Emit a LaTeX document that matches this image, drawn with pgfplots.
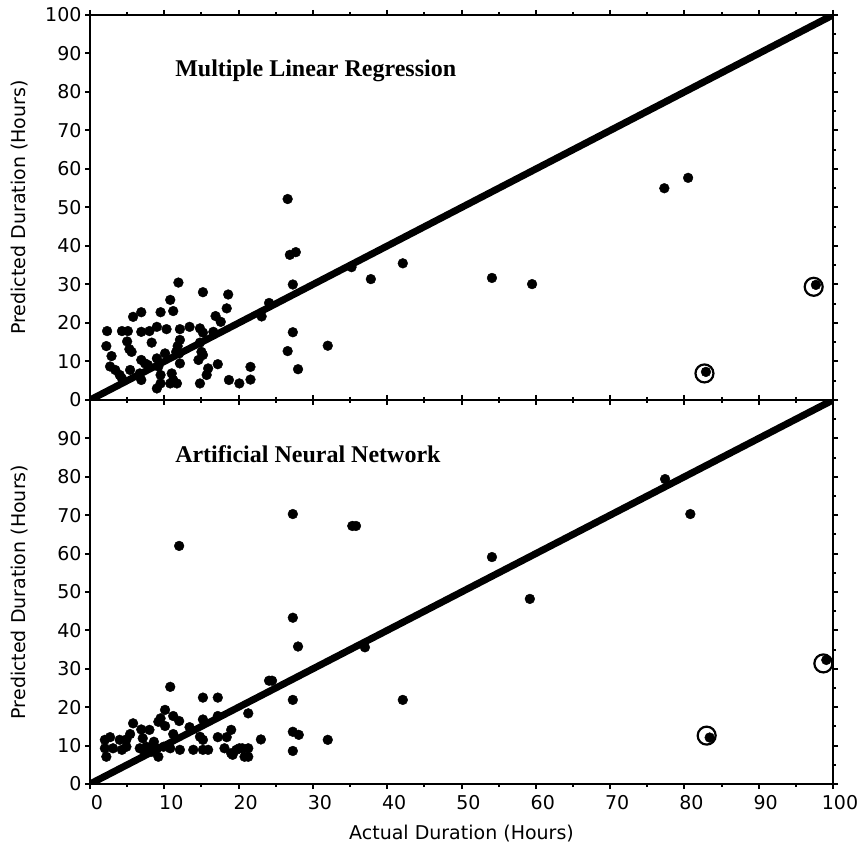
\documentclass[border=0pt]{standalone}
\usepackage{fontspec}
\setmainfont{DejaVu Sans}
\newfontfamily\titlefont{Liberation Serif}
\usepackage{pgfplots}
\usepackage{pgfplotstable}
\pgfplotsset{compat=1.18}

\pgfplotstableread{
x y
26.6 52.2
26.9 37.7
27.7 38.4
27.3 30.0
24.1 25.2
23.1 21.7
35.2 34.5
37.8 31.4
42.1 35.5
27.3 17.6
26.6 12.7
28.0 8.0
32.0 14.1
21.6 8.6
21.6 5.3
20.1 4.3
18.7 5.2
18.6 27.4
18.4 23.8
11.9 30.5
15.2 28.0
6.9 22.8
5.8 21.6
9.5 22.8
10.8 26.0
11.2 23.1
16.9 21.8
17.6 20.3
2.3 17.9
4.3 17.9
5.1 17.9
6.9 17.7
8.0 17.9
9.0 19.0
10.3 18.4
12.1 18.4
13.4 19.0
14.8 18.6
15.2 17.5
16.6 17.7
2.2 14.0
2.9 11.4
5.0 15.2
5.3 13.2
5.6 12.5
8.3 14.9
12.1 15.6
11.8 14.0
11.6 12.5
12.0 12.1
10.1 12.1
9.0 10.8
14.8 14.9
15.0 12.5
15.2 11.7
14.6 10.4
2.7 8.7
3.4 7.8
4.0 6.5
4.3 5.6
5.4 7.8
6.9 10.4
7.4 9.5
7.8 9.1
6.7 6.9
6.9 5.2
9.2 8.7
9.5 6.5
9.5 4.3
9.0 3.0
11.0 6.9
11.2 5.2
10.8 4.3
11.7 4.3
12.1 9.5
15.9 8.2
15.7 6.5
17.2 9.3
14.8 4.3
54.1 31.7
59.5 30.1
77.3 55.0
80.5 57.7
82.9 7.3
97.7 29.9
}\topdata

\pgfplotstableread{
x y
82.7 6.9
97.4 29.4
}\topcirc

\pgfplotstableread{
x y
77.4 79.4
80.8 70.3
54.1 59.1
59.2 48.2
42.1 21.9
12.0 62.0
27.3 70.3
35.3 67.2
35.8 67.2
27.3 43.3
28.0 35.8
37.0 35.6
24.1 26.9
24.5 26.9
27.3 21.9
21.3 18.4
19.0 14.1
23.0 11.6
27.3 13.6
28.1 12.8
32.0 11.5
27.3 8.6
20.1 9.3
21.3 9.3
21.3 7.1
19.0 8.0
10.8 25.3
15.2 22.5
17.2 22.5
10.1 19.3
11.2 17.7
12.0 16.4
9.5 17.1
9.2 16.2
15.2 16.8
17.2 17.7
5.8 15.8
10.1 15.1
13.4 14.8
6.9 14.2
8.0 14.1
5.4 13.0
11.2 13.0
2.7 12.2
2.0 11.5
4.0 11.5
4.9 11.6
7.1 11.9
8.6 11.0
14.8 12.3
15.2 11.5
17.2 12.2
18.4 12.2
2.0 9.3
3.1 9.3
4.3 8.9
4.9 9.7
6.7 9.3
7.6 9.7
8.3 9.7
9.0 9.3
9.9 9.7
10.8 9.3
12.1 8.9
13.9 8.9
15.2 8.9
15.9 8.9
18.1 9.3
19.7 8.9
20.5 9.3
2.2 7.1
7.4 8.0
9.2 7.1
8.3 8.4
19.2 7.6
20.8 7.1
83.4 12.1
99.1 32.3
}\botdata

\pgfplotstableread{
x y
83.0 12.6
98.7 31.4
}\botcirc

\pgfplotsset{
  paneldims/.style={
    width=743pt, scale only axis,
    xmin=0, xmax=100, ymin=0, ymax=100,
    axis line style={line width=2.5pt},
    every tick/.style={black, line width=2pt},
    major tick length=5pt, minor tick length=3pt,
    tick align=outside,
  },
  panel/.style={
    paneldims,
    xtick={0,10,...,100}, minor x tick num=1,
    xtick pos=both,
    ytick pos=left,
    /pgf/number format/assume math mode=true,
    tick label style={font=\fontsize{19}{22}\selectfont},
    xticklabel style={xshift=7pt, yshift=-3pt},
    xlabel style={font=\fontsize{19}{22}\selectfont, yshift=-8pt},
    every axis y label/.style={at={(axis description cs:-0.0942,0.5)}, rotate=90, anchor=center, font=\fontsize{19}{22}\selectfont},
  },
  rightticks/.style={
    paneldims,
    hide x axis,
    ytick={0,10,...,100}, minor y tick num=1,
    ytick pos=right, yticklabels={},
  },
  dots/.style={only marks, mark=*, mark size=4.9pt, black, mark options={fill=black, draw=black}},
  rings/.style={only marks, mark=o, mark size=9pt, black, mark options={line width=2.2pt}},
}

\begin{document}
\begin{tikzpicture}
\useasboundingbox (-90pt,-68pt) rectangle (775pt,784pt);
% bottom panel
\begin{axis}[panel, at={(0pt,0pt)}, anchor=south west, height=384pt,
  ytick={0,10,...,90},
  xlabel={Actual Duration (Hours)},
  ylabel={Predicted Duration (Hours)}]
\addplot[line width=7pt, black] coordinates {(0,0) (100,100)};
\addplot[dots] table {\botdata};
\addplot[rings] table {\botcirc};
\node[anchor=base west, font=\titlefont\bfseries\fontsize{24}{28}\selectfont] at (axis cs:11,83.6) {Artificial Neural Network};
\end{axis}
\begin{axis}[rightticks, at={(0pt,0pt)}, anchor=south west, height=384pt]
\end{axis}
% top panel
\begin{axis}[panel, at={(0pt,384pt)}, anchor=south west, height=385pt,
  ytick={0,10,...,100}, xticklabels={},
  ylabel={Predicted Duration (Hours)}]
\addplot[line width=7pt, black] coordinates {(0,0) (100,100)};
\addplot[dots] table {\topdata};
\addplot[rings] table {\topcirc};
\node[anchor=base west, font=\titlefont\bfseries\fontsize{24}{28}\selectfont] at (axis cs:11,83.9) {Multiple Linear Regression};
\end{axis}
\begin{axis}[rightticks, at={(0pt,384pt)}, anchor=south west, height=385pt]
\end{axis}
\end{tikzpicture}
\end{document}
